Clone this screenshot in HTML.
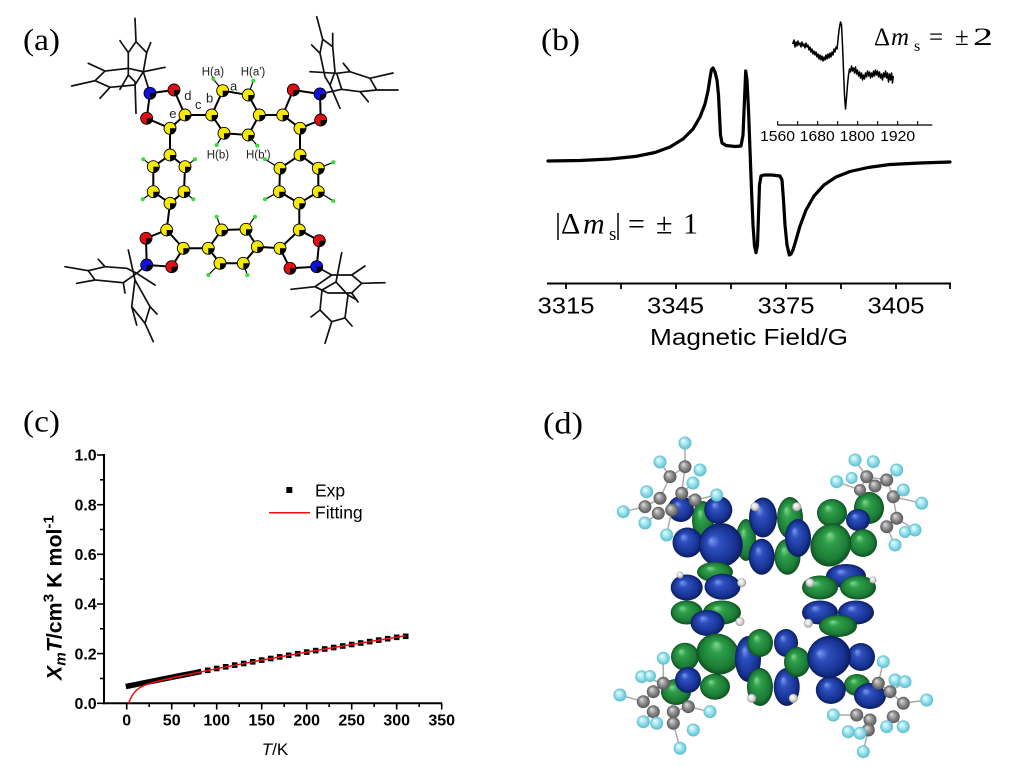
<!DOCTYPE html>
<html><head><meta charset="utf-8"><style>html,body{margin:0;padding:0;background:#fff}svg{display:block}</style></head>
<body>
<svg xmlns="http://www.w3.org/2000/svg" xmlns:xlink="http://www.w3.org/1999/xlink" width="1028" height="777" viewBox="0 0 1028 777">
<defs>
<radialGradient id="gb" cx="0.5" cy="0.5" r="0.5" fx="0.35" fy="0.3"><stop offset="0" stop-color="#7d99ec"/><stop offset="0.3" stop-color="#2d4fbf"/><stop offset="0.8" stop-color="#16318f"/><stop offset="1" stop-color="#0b1c5c"/></radialGradient>
<radialGradient id="gg" cx="0.5" cy="0.5" r="0.5" fx="0.35" fy="0.3"><stop offset="0" stop-color="#84d890"/><stop offset="0.3" stop-color="#2f9f4a"/><stop offset="0.8" stop-color="#1b7b35"/><stop offset="1" stop-color="#0e4e20"/></radialGradient>
<radialGradient id="gc" cx="0.5" cy="0.5" r="0.5" fx="0.35" fy="0.3"><stop offset="0" stop-color="#f2ffff"/><stop offset="0.5" stop-color="#9fe6f0"/><stop offset="1" stop-color="#5cbccc"/></radialGradient>
<radialGradient id="gy" cx="0.5" cy="0.5" r="0.5" fx="0.35" fy="0.3"><stop offset="0" stop-color="#e0e0e0"/><stop offset="0.5" stop-color="#959595"/><stop offset="1" stop-color="#555"/></radialGradient>
<radialGradient id="gw" cx="0.5" cy="0.5" r="0.5" fx="0.35" fy="0.3"><stop offset="0" stop-color="#fff"/><stop offset="0.6" stop-color="#dcdcdc"/><stop offset="1" stop-color="#999"/></radialGradient>
<g id="ya"><circle r="6" fill="#f5ea00" stroke="#000" stroke-width="0.9"/><path d="M0 0L6 0A6 6 0 0 1 0 6Z" fill="#000"/></g>
<g id="ro"><circle r="6" fill="#e01010" stroke="#000" stroke-width="0.9"/><path d="M0 0L6 0A6 6 0 0 1 0 6Z" fill="#000"/></g>
<g id="bn"><circle r="6" fill="#1010e0" stroke="#000" stroke-width="0.9"/><path d="M0 0L6 0A6 6 0 0 1 0 6Z" fill="#000"/></g>
</defs>
<rect width="1028" height="777" fill="#fff"/>

<!-- ===== Panel (a) ===== -->
<text x="23" y="50" font-family="Liberation Serif, serif" font-size="31" textLength="37" lengthAdjust="spacingAndGlyphs">(a)</text>
<g stroke="#111" stroke-width="1.7" fill="none" stroke-linecap="round">
<path d="M71.7 86L95 80.7L105 71L128.3 68.3L143.3 71.7L165 67.3 M95 80.7L110 87.3L135 85L143.3 71.7 M88.3 63.3L105 71 M110 87.3L100 98.3 M135 18.3L136 41.7L146.7 52.7L143.3 71.7 M136 41.7L128.3 52.7L128.3 75L135 81.7L136 113.3 M120 40.7L128.3 52.7 M150.7 42.7L146.7 52.7 M128.3 75L120 89.3 M143.3 71.7L150 93.3"/>
<path d="M316.7 16.7L322.7 39.3L332.7 46.7L335 71.7L330 85L325 76.7L320 53.3L322.7 39.3 M332.7 33.3L332.7 46.7 M311.7 45L320 53.3 M330 85L340 108.3 M310 71.7L336.7 73.3L350 71.7L370 78.3L393 73 M343.3 63.3L350 71.7 M370 78.3L376.7 90L398 90 M376.7 90L360 91.7L368.3 101.7 M360 91.7L341.7 89.3L336.7 73.3 M341.7 89.3L320 94"/>
<path d="M65 266.7L88.3 270.7 M88.3 270.7L105 266.7L126.7 268.3L136.7 273.3L123.3 282.7L95 280L88.3 270.7 M98.3 259.3L105 266.7 M76.7 283.3L95 280 M123.3 282.7L125 293 M136.7 273.3L155 285 M128.3 250L135 280L150 306.7L145 323.3L153.3 341.7 M150 306.7L157 314 M135 280L131.7 306.7L145 323.3 M131.7 306.7L136.7 325 M146.7 265L136.7 273.3"/>
<path d="M291 289.3L315 286.7L331.7 275L351.7 275L361.7 283.3L351.7 293L328 293L315 286.7 M365 266L351.7 275 M361.7 283.3L385 282.7 M351.7 293L358 302 M341.7 252.7L336 282L348 295L345 318L331.7 321.7L320 310L322 290L336 282 M331.7 321.7L325 343.3 M345 318L352 326 M320 310L311 317 M348 295L357 300 M316.7 266.7L331.7 275"/>
</g>
<!-- bonds -->
<g stroke="#000" stroke-width="2" fill="none">
<path d="M222.7 90.7L248.3 95L259.3 115L248.3 135L224 133.3L211.7 115Z M211.7 115L185 115 M259.3 115L282.7 115"/>
<path d="M150 93.3L174 90L185 115L170 128.3L146.7 118.3Z M170 128.3L170 155"/>
<path d="M170 155L185 166.7L184 191.7L170 203.3L153.3 191.7L153.3 166.7Z M170 203.3L166.7 230"/>
<path d="M166.7 230L146 238.3L146.7 265L171.7 266.7L183.3 248.3Z M183.3 248.3L208.3 248.3"/>
<path d="M208.3 248.3L221.7 230L246 229.3L257.3 246.7L243.3 263.3L220 263.3Z M257.3 246.7L280 248.3"/>
<path d="M280 248.3L299.3 230L319.3 240.7L316.7 266.7L290 268.3Z M299.3 230L299.3 203.3"/>
<path d="M299.3 203.3L318.3 191.7L318.3 168.3L300 155L280 168.3L279.3 191.7Z M300 155L300 128.3"/>
<path d="M300 128.3L282.7 115L293.3 90L320 94L320.7 120Z"/>
</g>
<g stroke="#000" stroke-width="1.2" fill="none">
<path d="M213.3 79L222.7 90.7 M253.3 80.7L248.3 95 M216.7 145L224 133.3 M257.3 145.7L248.3 135 M143.3 159.3L153.3 166.7 M195 159.3L185 166.7 M142.7 199.3L153.3 191.7 M193.3 199.3L184 191.7 M265 159.3L280 168.3 M333.3 162.3L318.3 168.3 M265 199.3L279.3 191.7 M333.3 201L318.3 191.7 M216.7 216.7L221.7 230 M255 216.7L246 229.3 M208.3 275L220 263.3 M247.3 275L243.3 263.3"/>
</g>
<g fill="#33dd33">
<circle cx="213.3" cy="79" r="2"/><circle cx="253.3" cy="80.7" r="2"/><circle cx="216.7" cy="145" r="2"/><circle cx="257.3" cy="145.7" r="2"/><circle cx="143.3" cy="159.3" r="2"/><circle cx="195" cy="159.3" r="2"/><circle cx="142.7" cy="199.3" r="2"/><circle cx="193.3" cy="199.3" r="2"/><circle cx="265" cy="159.3" r="2"/><circle cx="333.3" cy="162.3" r="2"/><circle cx="265" cy="199.3" r="2"/><circle cx="333.3" cy="201" r="2"/><circle cx="216.7" cy="216.7" r="2"/><circle cx="255" cy="216.7" r="2"/><circle cx="208.3" cy="275" r="2"/><circle cx="247.3" cy="275" r="2"/>
</g>
<use xlink:href="#ya" x="222.7" y="90.7"/><use xlink:href="#ya" x="248.3" y="95"/><use xlink:href="#ya" x="259.3" y="115"/><use xlink:href="#ya" x="248.3" y="135"/><use xlink:href="#ya" x="224" y="133.3"/><use xlink:href="#ya" x="211.7" y="115"/>
<use xlink:href="#bn" x="150" y="93.3"/><use xlink:href="#ro" x="174" y="90"/><use xlink:href="#ya" x="185" y="115"/><use xlink:href="#ya" x="170" y="128.3"/><use xlink:href="#ro" x="146.7" y="118.3"/>
<use xlink:href="#ya" x="170" y="155"/><use xlink:href="#ya" x="185" y="166.7"/><use xlink:href="#ya" x="184" y="191.7"/><use xlink:href="#ya" x="170" y="203.3"/><use xlink:href="#ya" x="153.3" y="191.7"/><use xlink:href="#ya" x="153.3" y="166.7"/>
<use xlink:href="#ya" x="166.7" y="230"/><use xlink:href="#ya" x="183.3" y="248.3"/><use xlink:href="#ro" x="146" y="238.3"/><use xlink:href="#bn" x="146.7" y="265"/><use xlink:href="#ro" x="171.7" y="266.7"/>
<use xlink:href="#ya" x="208.3" y="248.3"/><use xlink:href="#ya" x="221.7" y="230"/><use xlink:href="#ya" x="246" y="229.3"/><use xlink:href="#ya" x="257.3" y="246.7"/><use xlink:href="#ya" x="243.3" y="263.3"/><use xlink:href="#ya" x="220" y="263.3"/>
<use xlink:href="#ya" x="280" y="248.3"/><use xlink:href="#ya" x="299.3" y="230"/><use xlink:href="#ro" x="319.3" y="240.7"/><use xlink:href="#bn" x="316.7" y="266.7"/><use xlink:href="#ro" x="290" y="268.3"/>
<use xlink:href="#ya" x="299.3" y="203.3"/><use xlink:href="#ya" x="318.3" y="191.7"/><use xlink:href="#ya" x="318.3" y="168.3"/><use xlink:href="#ya" x="300" y="155"/><use xlink:href="#ya" x="280" y="168.3"/><use xlink:href="#ya" x="279.3" y="191.7"/>
<use xlink:href="#ya" x="300" y="128.3"/><use xlink:href="#ya" x="282.7" y="115"/><use xlink:href="#ro" x="293.3" y="90"/><use xlink:href="#bn" x="320" y="94"/><use xlink:href="#ro" x="320.7" y="120"/>
<g font-family="Liberation Sans, Arial, sans-serif" fill="#222">
<text x="201.7" y="75.3" font-size="11.5">H(a)</text>
<text x="240.7" y="75.3" font-size="11.5">H(a')</text>
<text x="206.7" y="158.5" font-size="11.5">H(b)</text>
<text x="246" y="158.5" font-size="11.5">H(b')</text>
<text x="230" y="90.5" font-size="13">a</text>
<text x="206" y="102.5" font-size="13">b</text>
<text x="195" y="109" font-size="13">c</text>
<text x="184.3" y="100" font-size="13">d</text>
<text x="169.3" y="118" font-size="13">e</text>
</g>

<!-- ===== Panel (b) ===== -->
<text x="541" y="50" font-family="Liberation Serif, serif" font-size="31" textLength="39" lengthAdjust="spacingAndGlyphs">(b)</text>
<polyline fill="none" stroke="#000" stroke-width="3.2" stroke-linejoin="round" stroke-linecap="round" points="548,161 580,160.5 610,159 635,156.5 655,152.5 670,147 683,139 693,129 700,117 705,104 708,91 710,78 711.5,69.5 713,68 715,72 717,80 718.5,95 719.5,115 720.5,135 722,143 726,145.5 735,146.5 741,146 743,135 744.5,100 745.7,71 747,80 748.5,110 750,150 751.5,190 753,225 754.5,246 756,252.7 757.5,245 758.5,215 759.5,185 761,176 764,175 772,175 780,176 782,180 783.5,200 785,225 787,245 789.3,255 791,254 793,250 796,240 800,226 806,210 814,196 824,185 836,177 850,171.5 868,167.5 890,164.5 920,163 950,162"/>
<line x1="547" y1="283.5" x2="951" y2="283.5" stroke="#000" stroke-width="2"/>
<g stroke="#000" stroke-width="1.8">
<line x1="566" y1="283.5" x2="566" y2="289"/><line x1="621" y1="283.5" x2="621" y2="289"/><line x1="676" y1="283.5" x2="676" y2="289"/><line x1="731" y1="283.5" x2="731" y2="289"/><line x1="786" y1="283.5" x2="786" y2="289"/><line x1="841" y1="283.5" x2="841" y2="289"/><line x1="896" y1="283.5" x2="896" y2="289"/><line x1="950" y1="283.5" x2="950" y2="289"/>
</g>
<g font-family="Liberation Sans, Arial, sans-serif" font-size="23" text-anchor="middle">
<text x="566" y="313.3" textLength="57" lengthAdjust="spacingAndGlyphs">3315</text>
<text x="675.5" y="313.3" textLength="57" lengthAdjust="spacingAndGlyphs">3345</text>
<text x="786" y="313.3" textLength="57" lengthAdjust="spacingAndGlyphs">3375</text>
<text x="896" y="313.3" textLength="57" lengthAdjust="spacingAndGlyphs">3405</text>
<text x="749" y="345" textLength="198" lengthAdjust="spacingAndGlyphs">Magnetic Field/G</text>
</g>
<!-- inset -->
<polyline fill="none" stroke="#000" stroke-width="1.5" stroke-linejoin="round" points="792.7,44 794,40 795,47 796,42 797,46 798,41 799,45 800,43 801,47 802,42 803,46 804,44 805,48 806,43 807,47 808,45 809,50 810,47 811,52 812,49 813,54 814,51 815,55 816,52 817,57 818,54 819,59 820,55 821,60 822,56 823,61 824,57 825,60 826,55 827,59 828,54 829,58 830,53 831,57 832,52 833,55 834,49 835,52 836,47 837,49 838,40 839,30 840.5,22 841.5,25 842.5,45 843.5,70 844.5,95 845.5,109 846.5,98 847.5,85 848.5,75 849.5,69 850.5,72 851.5,66 852.5,71 853.5,68 854.5,73 855.5,67 856.5,74 857.5,70 858.5,76 859.5,72 860.5,78 861.5,73 862.5,80 863.5,75 864.5,79 865.5,73 866.5,77 867.5,71 868.5,76 869.5,72 870.5,78 871.5,73 872.5,77 873.5,71 874.5,76 875.5,70 876.5,75 877.5,71 878.5,77 879.5,72 880.5,78 881.5,74 882.5,80 883.5,73 884.5,77 885.5,71 886.5,78 887.5,73 888.5,82 889.5,74 890.5,80 891.5,73 892.5,83 893.3,76"/>
<line x1="777.3" y1="125" x2="932.3" y2="125" stroke="#000" stroke-width="1.3"/>
<g stroke="#000" stroke-width="1.1">
<line x1="777.7" y1="125" x2="777.7" y2="121"/><line x1="797.7" y1="125" x2="797.7" y2="121"/><line x1="817.7" y1="125" x2="817.7" y2="121"/><line x1="837.7" y1="125" x2="837.7" y2="121"/><line x1="857.7" y1="125" x2="857.7" y2="121"/><line x1="877.7" y1="125" x2="877.7" y2="121"/><line x1="897.7" y1="125" x2="897.7" y2="121"/><line x1="917.7" y1="125" x2="917.7" y2="121"/>
</g>
<g font-family="Liberation Sans, Arial, sans-serif" font-size="14.5" text-anchor="middle">
<text x="777.5" y="141" textLength="35" lengthAdjust="spacingAndGlyphs">1560</text>
<text x="817.3" y="141" textLength="35" lengthAdjust="spacingAndGlyphs">1680</text>
<text x="857.3" y="141" textLength="35" lengthAdjust="spacingAndGlyphs">1800</text>
<text x="897.7" y="141" textLength="35" lengthAdjust="spacingAndGlyphs">1920</text>
</g>
<g font-family="Liberation Serif, serif" fill="#000">
<text x="874" y="45" font-size="25">Δ</text>
<text x="891" y="45" font-size="25" font-style="italic">m</text>
<text x="914" y="51" font-size="16">s</text>
<text x="929" y="45" font-size="25">=</text>
<text x="955" y="45" font-size="25">±</text>
<text x="973" y="45" font-size="25" textLength="20" lengthAdjust="spacingAndGlyphs">2</text>
<text x="555" y="233.3" font-size="30">|</text>
<text x="561" y="233.3" font-size="30">Δ</text>
<text x="583" y="233.3" font-size="30" font-style="italic">m</text>
<text x="609" y="240" font-size="19">s</text>
<text x="615" y="233.3" font-size="30">|</text>
<text x="628" y="233.3" font-size="30">=</text>
<text x="656" y="233.3" font-size="30">±</text>
<text x="683" y="233.3" font-size="30">1</text>
</g>

<!-- ===== Panel (c) ===== -->
<text x="23" y="431.7" font-family="Liberation Serif, serif" font-size="31" textLength="37" lengthAdjust="spacingAndGlyphs">(c)</text>
<g stroke="#000" stroke-width="2" fill="none">
<line x1="104" y1="454" x2="104" y2="704.3"/>
<line x1="103" y1="703.3" x2="442" y2="703.3"/>
</g>
<g stroke="#000" stroke-width="1.6">
<line x1="97" y1="703.3" x2="104" y2="703.3"/><line x1="97" y1="653.6" x2="104" y2="653.6"/><line x1="97" y1="604" x2="104" y2="604"/><line x1="97" y1="554.3" x2="104" y2="554.3"/><line x1="97" y1="504.7" x2="104" y2="504.7"/><line x1="97" y1="455" x2="104" y2="455"/>
<line x1="100" y1="678.5" x2="104" y2="678.5"/><line x1="100" y1="628.8" x2="104" y2="628.8"/><line x1="100" y1="579.1" x2="104" y2="579.1"/><line x1="100" y1="529.5" x2="104" y2="529.5"/><line x1="100" y1="479.8" x2="104" y2="479.8"/>
<line x1="126.7" y1="703.3" x2="126.7" y2="709.5"/><line x1="171.7" y1="703.3" x2="171.7" y2="709.5"/><line x1="216.7" y1="703.3" x2="216.7" y2="709.5"/><line x1="261.7" y1="703.3" x2="261.7" y2="709.5"/><line x1="306.7" y1="703.3" x2="306.7" y2="709.5"/><line x1="351.7" y1="703.3" x2="351.7" y2="709.5"/><line x1="396.7" y1="703.3" x2="396.7" y2="709.5"/><line x1="441.7" y1="703.3" x2="441.7" y2="709.5"/>
<line x1="149.2" y1="703.3" x2="149.2" y2="707"/><line x1="194.2" y1="703.3" x2="194.2" y2="707"/><line x1="239.2" y1="703.3" x2="239.2" y2="707"/><line x1="284.2" y1="703.3" x2="284.2" y2="707"/><line x1="329.2" y1="703.3" x2="329.2" y2="707"/><line x1="374.2" y1="703.3" x2="374.2" y2="707"/><line x1="419.2" y1="703.3" x2="419.2" y2="707"/>
</g>
<g font-family="Liberation Sans, Arial, sans-serif" font-size="16" font-weight="bold" text-anchor="end">
<text x="96.7" y="709">0.0</text><text x="96.7" y="659.3">0.2</text><text x="96.7" y="609.7">0.4</text><text x="96.7" y="560">0.6</text><text x="96.7" y="510.4">0.8</text><text x="96.7" y="460.7">1.0</text>
</g>
<g font-family="Liberation Sans, Arial, sans-serif" font-size="16" font-weight="bold" text-anchor="middle">
<text x="126.7" y="725.5">0</text><text x="171.7" y="725.5">50</text><text x="216.7" y="725.5">100</text><text x="261.7" y="725.5">150</text><text x="306.7" y="725.5">200</text><text x="351.7" y="725.5">250</text><text x="396.7" y="725.5">300</text><text x="441.7" y="725.5">350</text>
</g>
<text transform="translate(61.7,597.5) rotate(-90)" text-anchor="middle" font-family="Liberation Sans, Arial, sans-serif" font-size="21" font-weight="bold" textLength="165" lengthAdjust="spacingAndGlyphs"><tspan font-style="italic">X</tspan><tspan font-style="italic" font-size="15" dy="4">m</tspan><tspan font-style="italic" dy="-4">T</tspan>/cm<tspan font-size="15" dy="-8">3</tspan><tspan dy="8"> K mol</tspan><tspan font-size="15" dy="-8">-1</tspan></text>
<text x="275" y="755" text-anchor="middle" font-family="Liberation Sans, Arial, sans-serif" font-size="17"><tspan font-style="italic">T</tspan>/K</text>
<!-- data -->
<polyline fill="none" stroke="#000" stroke-width="5.5" stroke-linecap="square" points="128.5,686 135.7,684.6 144.7,682.7 153.7,680.9 162.7,679.1 171.7,677.3 180.7,675.5 189.7,673.8 198.7,672"/>
<g fill="#000">
<rect x="204.9" y="667.5" width="5.6" height="5.6"/><rect x="213.9" y="665.7" width="5.6" height="5.6"/><rect x="222.9" y="664" width="5.6" height="5.6"/><rect x="231.9" y="662.3" width="5.6" height="5.6"/><rect x="240.9" y="660.7" width="5.6" height="5.6"/><rect x="249.9" y="659" width="5.6" height="5.6"/><rect x="258.9" y="657.3" width="5.6" height="5.6"/><rect x="267.9" y="655.7" width="5.6" height="5.6"/><rect x="276.9" y="654.1" width="5.6" height="5.6"/><rect x="285.9" y="652.5" width="5.6" height="5.6"/><rect x="294.9" y="650.9" width="5.6" height="5.6"/><rect x="303.9" y="649.3" width="5.6" height="5.6"/><rect x="312.9" y="647.8" width="5.6" height="5.6"/><rect x="321.9" y="646.2" width="5.6" height="5.6"/><rect x="330.9" y="644.7" width="5.6" height="5.6"/><rect x="339.9" y="643.2" width="5.6" height="5.6"/><rect x="348.9" y="641.7" width="5.6" height="5.6"/><rect x="357.9" y="640.2" width="5.6" height="5.6"/><rect x="366.9" y="638.8" width="5.6" height="5.6"/><rect x="375.9" y="637.3" width="5.6" height="5.6"/><rect x="384.9" y="635.9" width="5.6" height="5.6"/><rect x="393.9" y="634.5" width="5.6" height="5.6"/><rect x="402.9" y="633.5" width="5.6" height="5.6"/>
</g>
<polyline fill="none" stroke="#ee1111" stroke-width="1.5" stroke-linejoin="round" points="128.5,703.3 130.3,699.1 132.1,695.8 133.9,693.2 135.7,690.9 139.3,688 144.7,685.2 153.7,682.3 162.7,680 171.7,678 180.7,676.1 198.7,672.3 216.7,668.7 261.7,660.1 306.7,652.1 351.7,644.5 405.7,635.8"/>
<rect x="286.3" y="487" width="6" height="6" fill="#000"/>
<line x1="269" y1="512.7" x2="310" y2="512.7" stroke="#ee1111" stroke-width="1.5"/>
<g font-family="Liberation Sans, Arial, sans-serif" font-size="17.5">
<text x="315" y="496.5">Exp</text>
<text x="315" y="518.5">Fitting</text>
</g>

<!-- ===== Panel (d) ===== -->
<text x="543" y="433.3" font-family="Liberation Serif, serif" font-size="31" textLength="40" lengthAdjust="spacingAndGlyphs">(d)</text>
<g>
<!-- upper-left -->
<ellipse cx="703" cy="520" rx="11" ry="19" fill="url(#gg)"/>
<ellipse cx="680.8" cy="509" rx="13" ry="13" fill="url(#gb)"/>
<ellipse cx="718.3" cy="510" rx="14" ry="14" fill="url(#gb)"/>
<ellipse cx="687.5" cy="542.5" rx="15" ry="15" fill="url(#gb)"/>
<ellipse cx="746" cy="540" rx="10" ry="21" fill="url(#gg)"/>
<ellipse cx="720.8" cy="545" rx="22" ry="22" fill="url(#gb)" transform="rotate(-30 720.8 545)"/>
<ellipse cx="763" cy="517.5" rx="14" ry="20" fill="url(#gb)"/>
<ellipse cx="761.7" cy="556.7" rx="13" ry="18" fill="url(#gb)"/>
<ellipse cx="790" cy="518" rx="13" ry="21" fill="url(#gg)"/>
<ellipse cx="787.5" cy="556.7" rx="13" ry="18" fill="url(#gg)"/>
<ellipse cx="798" cy="538" rx="13" ry="19" fill="url(#gb)"/>
<ellipse cx="869" cy="508" rx="15" ry="16" fill="url(#gg)"/>
<ellipse cx="858" cy="520" rx="12" ry="11" fill="url(#gb)"/>
<ellipse cx="832" cy="513" rx="15" ry="14" fill="url(#gg)"/>
<ellipse cx="863" cy="543" rx="14" ry="14" fill="url(#gg)"/>
<ellipse cx="830.8" cy="545" rx="20" ry="22" fill="url(#gg)" transform="rotate(30 830.8 545)"/>
<!-- middle left -->
<ellipse cx="715" cy="572" rx="18" ry="10" fill="url(#gg)"/>
<ellipse cx="686.7" cy="587.5" rx="16" ry="13" fill="url(#gb)"/>
<ellipse cx="722.5" cy="586.7" rx="18" ry="13" fill="url(#gb)"/>
<ellipse cx="686.7" cy="612.5" rx="16" ry="12" fill="url(#gg)"/>
<ellipse cx="722" cy="612.5" rx="19" ry="12" fill="url(#gg)"/>
<ellipse cx="707.5" cy="623" rx="17" ry="13" fill="url(#gb)"/>
<!-- middle right -->
<ellipse cx="846" cy="576" rx="20" ry="12" fill="url(#gb)"/>
<ellipse cx="820" cy="587.5" rx="18" ry="12" fill="url(#gg)"/>
<ellipse cx="858" cy="587.5" rx="18" ry="12" fill="url(#gg)"/>
<ellipse cx="820" cy="612.5" rx="18" ry="12" fill="url(#gb)"/>
<ellipse cx="856" cy="612.5" rx="18" ry="12" fill="url(#gb)"/>
<ellipse cx="838" cy="626" rx="19" ry="11" fill="url(#gg)"/>
<!-- lower left -->
<ellipse cx="676" cy="692" rx="15" ry="13" fill="url(#gg)"/>
<ellipse cx="685" cy="656.7" rx="14" ry="14" fill="url(#gg)"/>
<ellipse cx="688" cy="680" rx="13" ry="13" fill="url(#gb)"/>
<ellipse cx="715" cy="686.7" rx="15" ry="13" fill="url(#gg)"/>
<ellipse cx="718" cy="654" rx="22" ry="20" fill="url(#gg)" transform="rotate(30 718 654)"/>
<ellipse cx="748" cy="659" rx="13" ry="23" fill="url(#gb)"/>
<ellipse cx="760" cy="643" rx="13" ry="14" fill="url(#gg)"/>
<ellipse cx="760" cy="687" rx="13" ry="19" fill="url(#gg)"/>
<ellipse cx="786" cy="643" rx="12" ry="14" fill="url(#gb)"/>
<ellipse cx="786.7" cy="687" rx="13" ry="19" fill="url(#gb)"/>
<ellipse cx="797" cy="662" rx="13" ry="15" fill="url(#gg)"/>
<!-- lower right -->
<ellipse cx="857" cy="685" rx="13" ry="11" fill="url(#gg)"/>
<ellipse cx="861" cy="657" rx="14" ry="14" fill="url(#gb)"/>
<ellipse cx="830.8" cy="690" rx="15" ry="14" fill="url(#gb)"/>
<ellipse cx="829" cy="657" rx="22" ry="21" fill="url(#gb)" transform="rotate(-30 829 657)"/>
<ellipse cx="870" cy="696" rx="16" ry="13" fill="url(#gb)"/>
</g>
<!-- corner atoms -->
<g stroke="#aaa" stroke-width="1.5" fill="none">
<path d="M685 443L685 466.7L670 476.7L660 498.3L645 506.7L623.3 511.7 M685 466.7L681.7 493.3L695 500L716.7 495 M670 476.7L660 462 M681.7 493.3L693 483 M658.3 513.3L645 523 M671.7 510L666.7 535"/>
<path d="M855 460L866.7 476.7L886.7 480L896.7 470 M866.7 476.7L860 490L836.7 481.7 M886.7 480L893.3 496.7L921.7 503.3 M893.3 496.7L896.7 518.3L915 530 M896.7 518.3L886.7 526.7L895 545"/>
<path d="M663.3 658.3L663.3 683.3L653.3 691.7L643.3 701.7L620 695 M653.3 711.7L643.3 721.7 M673.3 711.7L688.3 706.7L710 711.7 M673.3 723.3L680 748.3 M663.3 683.3L641.7 676.7"/>
<path d="M883.3 661.7L878.3 683.3L890 691.7L903.3 703.3L926.7 700 M893.3 716.7L903.3 726.7 M870 720L856.7 715L833.3 715 M868.3 730L863.3 751.7 M890 691.7L905 681.7"/>
</g>
<g fill="url(#gy)">
<circle cx="670" cy="476.7" r="6.5"/><circle cx="685" cy="466.7" r="6.5"/><circle cx="660" cy="498.3" r="6.5"/><circle cx="681.7" cy="493.3" r="6.5"/><circle cx="695" cy="500" r="6.5"/><circle cx="645" cy="506.7" r="6.5"/><circle cx="658.3" cy="513.3" r="6.5"/><circle cx="671.7" cy="510" r="6.5"/>
<circle cx="866.7" cy="476.7" r="6.5"/><circle cx="886.7" cy="480" r="6.5"/><circle cx="893.3" cy="496.7" r="6.5"/><circle cx="896.7" cy="518.3" r="6.5"/><circle cx="886.7" cy="526.7" r="6.5"/><circle cx="875" cy="486" r="6.5"/><circle cx="860" cy="490" r="6"/>
<circle cx="653.3" cy="691.7" r="6.5"/><circle cx="643.3" cy="701.7" r="6.5"/><circle cx="653.3" cy="711.7" r="6.5"/><circle cx="673.3" cy="711.7" r="6.5"/><circle cx="688.3" cy="706.7" r="6.5"/><circle cx="673.3" cy="723.3" r="6.5"/><circle cx="663.3" cy="683.3" r="6.5"/>
<circle cx="878.3" cy="683.3" r="6.5"/><circle cx="890" cy="691.7" r="6.5"/><circle cx="903.3" cy="703.3" r="6.5"/><circle cx="893.3" cy="716.7" r="6.5"/><circle cx="870" cy="720" r="6.5"/><circle cx="856.7" cy="715" r="6.5"/><circle cx="868.3" cy="730" r="6.5"/>
</g>
<g fill="url(#gc)">
<circle cx="685" cy="443" r="6.5"/><circle cx="660" cy="462" r="6.5"/><circle cx="700" cy="470" r="6.5"/><circle cx="646.7" cy="491.7" r="6.5"/><circle cx="623.3" cy="511.7" r="6.5"/><circle cx="645" cy="523" r="6.5"/><circle cx="666.7" cy="535" r="6.5"/><circle cx="693" cy="483" r="6.5"/><circle cx="716.7" cy="495" r="6.5"/>
<circle cx="855" cy="460" r="6.5"/><circle cx="873.3" cy="461.7" r="6.5"/><circle cx="836.7" cy="481.7" r="6.5"/><circle cx="851.7" cy="478" r="6"/><circle cx="896.7" cy="470" r="6.5"/><circle cx="903.3" cy="490" r="6.5"/><circle cx="921.7" cy="503.3" r="6.5"/><circle cx="915" cy="530" r="6.5"/><circle cx="895" cy="545" r="6.5"/><circle cx="905" cy="532" r="6"/>
<circle cx="663.3" cy="658.3" r="6.5"/><circle cx="641.7" cy="676.7" r="6.5"/><circle cx="650" cy="676" r="6"/><circle cx="620" cy="695" r="6.5"/><circle cx="710" cy="711.7" r="6.5"/><circle cx="643.3" cy="721.7" r="6.5"/><circle cx="656.7" cy="723.3" r="6.5"/><circle cx="693.3" cy="730" r="6.5"/><circle cx="680" cy="748.3" r="6.5"/>
<circle cx="883.3" cy="661.7" r="6.5"/><circle cx="895" cy="680" r="6.5"/><circle cx="905" cy="681.7" r="6.5"/><circle cx="926.7" cy="700" r="6.5"/><circle cx="833.3" cy="715" r="6.5"/><circle cx="903.3" cy="726.7" r="6.5"/><circle cx="848.3" cy="731.7" r="6.5"/><circle cx="860" cy="733.3" r="6.5"/><circle cx="863.3" cy="751.7" r="6.5"/><circle cx="886.7" cy="726.7" r="6.5"/>
</g>
<g fill="url(#gw)">
<circle cx="755" cy="506.7" r="4.5"/><circle cx="796.7" cy="506.7" r="4.5"/><circle cx="741.7" cy="582.7" r="4.5"/><circle cx="810" cy="582.7" r="4.5"/><circle cx="740" cy="621.7" r="4.5"/><circle cx="808.3" cy="623.3" r="4.5"/><circle cx="751.7" cy="698.3" r="4.5"/><circle cx="793.3" cy="698.3" r="4.5"/><circle cx="680" cy="575" r="3.5"/><circle cx="873" cy="580" r="3.5"/>
</g>
</svg>
</body></html>
